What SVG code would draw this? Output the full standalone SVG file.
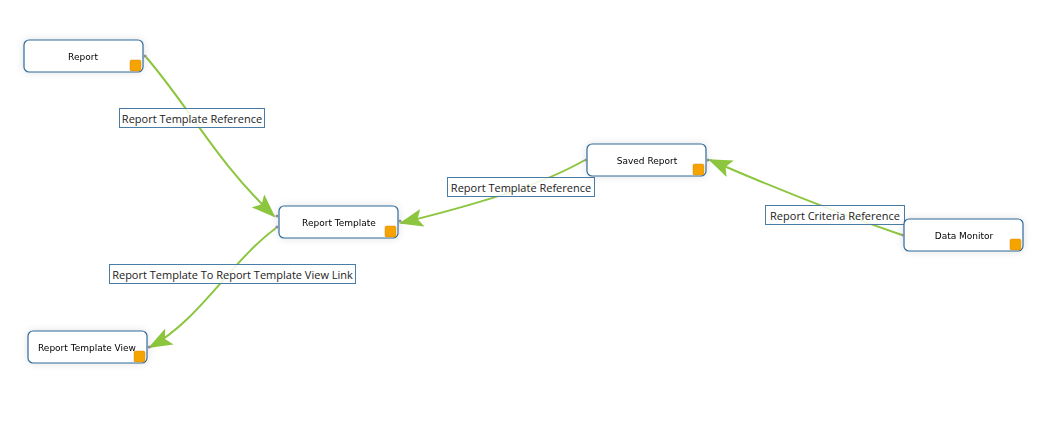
<svg xmlns="http://www.w3.org/2000/svg" width="1063" height="425" viewBox="0 0 1063 425">
  <defs>
    <filter id="halo" x="-20%" y="-50%" width="140%" height="200%">
      <feGaussianBlur in="SourceAlpha" stdDeviation="4"/>
      <feComponentTransfer><feFuncA type="linear" slope="0.12"/></feComponentTransfer>
      <feMerge><feMergeNode/><feMergeNode in="SourceGraphic"/></feMerge>
    </filter>
    <marker id="arrow" viewBox="0 0 24 18" refX="22" refY="9" markerWidth="24" markerHeight="18" markerUnits="userSpaceOnUse" orient="auto">
      <path d="M0,0 L24,9 L0,18 L5,9 z" fill="#8cc63f"/>
    </marker>
  </defs>
  <style>
    .node rect.body { fill: #ffffff; stroke: #2f6b9a; stroke-width: 1.2; }
    .node rect.badge { fill: #f5a300; stroke: #d98a10; stroke-width: 0.5; }
    .node text { font-family: "DejaVu Sans", Verdana, sans-serif; font-size: 9px; fill: #000; text-anchor: middle; dominant-baseline: central; }
    .port { fill: #8a8f96; }
    .edge { fill: none; stroke: #8cc63f; stroke-width: 2; marker-end: url(#arrow); }
    .label rect { fill: #ffffff; fill-opacity: 0.85; stroke: #4b7ca6; stroke-width: 1; }
    .label text { font-family: "Open Sans", "Noto Sans", sans-serif; font-size: 11px; fill: #222; text-anchor: middle; dominant-baseline: central; }
  </style>
  <rect width="1063" height="425" fill="#ffffff"/>

  <!-- connectors -->
  <g id="connectors">
    <path class="edge" d="M146,57 C190,108 215,160 274,216"/>
    <path class="edge" d="M585,160 C540,186 470,206 401,223"/>
    <path class="edge" d="M902,235 C840,214 770,186 710,160"/>
    <path class="edge" d="M276,228 C230,262 200,320 150,347"/>
  </g>

  <!-- connector labels -->
  <g id="edge-labels">
    <g class="label"><rect x="119.5" y="108.5" width="145" height="19"/><text x="192" y="118">Report Template Reference</text></g>
    <g class="label"><rect x="447.5" y="177.5" width="147" height="19"/><text x="521" y="187">Report Template Reference</text></g>
    <g class="label"><rect x="765.5" y="205.5" width="139" height="19"/><text x="835" y="215">Report Criteria Reference</text></g>
    <g class="label"><rect x="109.5" y="264.5" width="246" height="19"/><text x="232.5" y="274">Report Template To Report Template View Link</text></g>
  </g>

  <!-- nodes -->
  <g id="node-report" class="node" filter="url(#halo)">
    <rect class="body" x="24" y="40" width="119" height="32" rx="5"/>
    <rect class="badge" x="130" y="60" width="11" height="11" rx="1.5"/>
    <text x="83" y="57">Report</text>
    <circle class="port" cx="145" cy="56" r="1.6"/>
  </g>
  <g id="node-report-template" class="node" filter="url(#halo)">
    <rect class="body" x="279" y="206" width="119" height="32" rx="5"/>
    <rect class="badge" x="385" y="226" width="11" height="11" rx="1.5"/>
    <text x="339" y="223">Report Template</text>
    <circle class="port" cx="277" cy="216" r="1.6"/>
    <circle class="port" cx="277" cy="227" r="1.6"/>
    <circle class="port" cx="400" cy="221" r="1.6"/>
  </g>
  <g id="node-saved-report" class="node" filter="url(#halo)">
    <rect class="body" x="587" y="144" width="119" height="32" rx="5"/>
    <rect class="badge" x="693" y="164" width="11" height="11" rx="1.5"/>
    <text x="647" y="161">Saved Report</text>
    <circle class="port" cx="586" cy="160" r="1.6"/>
    <circle class="port" cx="708" cy="160" r="1.6"/>
  </g>
  <g id="node-data-monitor" class="node" filter="url(#halo)">
    <rect class="body" x="904" y="219" width="119" height="32" rx="5"/>
    <rect class="badge" x="1010" y="239" width="11" height="11" rx="1.5"/>
    <text x="964" y="236">Data Monitor</text>
    <circle class="port" cx="903" cy="235" r="1.6"/>
  </g>
  <g id="node-report-template-view" class="node" filter="url(#halo)">
    <rect class="body" x="28" y="331" width="119" height="32" rx="5"/>
    <rect class="badge" x="134" y="351" width="11" height="11" rx="1.5"/>
    <text x="87" y="348">Report Template View</text>
    <circle class="port" cx="149" cy="347" r="1.6"/>
  </g>
</svg>
